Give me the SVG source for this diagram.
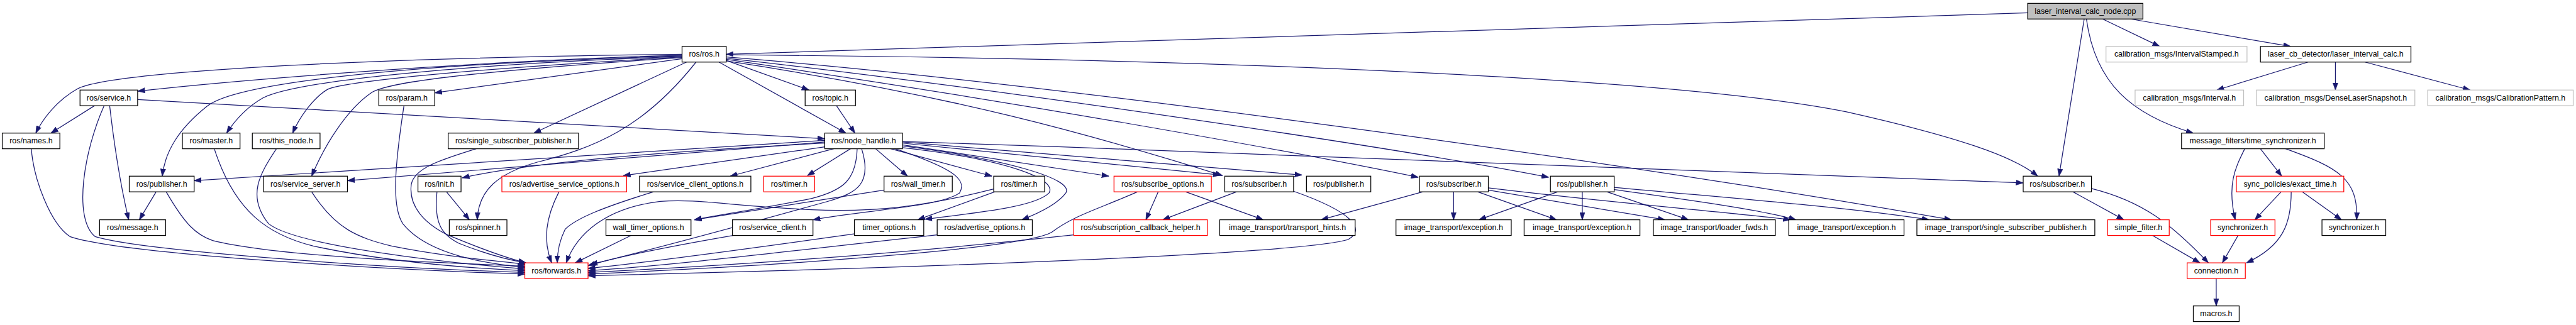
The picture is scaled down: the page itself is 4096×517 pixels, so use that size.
<svg xmlns="http://www.w3.org/2000/svg" width="4096" height="517" viewBox="0 0 4096 517">
<style>
.e{fill:none;stroke:#191970;stroke-width:1.4;marker-end:url(#ah)}
.n rect{fill:#fff;stroke:#000;stroke-width:1.4}
.n.r rect{stroke:#ff0000}
.n.g rect{stroke:#bfbfbf}
.n.root rect{fill:#bfbfbf}
.n text{font-family:"Liberation Sans",Arial,sans-serif;font-size:14px;fill:#000;text-anchor:middle}
</style>
<defs>
<marker id="ah" viewBox="0 0 13 10" refX="13" refY="5" markerWidth="13" markerHeight="10" markerUnits="userSpaceOnUse" orient="auto">
<path d="M0,0.4 L13,5 L0,9.6 z" fill="#191970" stroke="#191970" stroke-width="0.8"/>
</marker>
</defs>
<rect width="4096" height="517" fill="#fff"/>
<g transform="scale(0.88966)">
<g id="edges">
<path class="e" d="M3624,23 L1298,97"/>
<path class="e" d="M3758,34 L3860,83"/>
<path class="e" d="M3808,34 L4094,83"/>
<path class="e" d="M3729,34 C3745,150 3810,205 3920,238"/>
<path class="e" d="M3725,34 L3680,315"/>
<path class="e" d="M1219,97 C600,104 200,130 140,158 C100,180 75,215 64,238"/>
<path class="e" d="M1219,99 C950,105 500,135 246,163"/>
<path class="e" d="M1219,100 C700,115 420,150 370,190 C320,230 295,270 290,315"/>
<path class="e" d="M1219,101 C750,118 520,150 470,175 C440,192 420,215 405,238"/>
<path class="e" d="M1219,102 C800,125 610,148 585,160 C560,175 535,210 523,238"/>
<path class="e" d="M1219,103 C800,130 690,150 665,165 C620,195 580,260 557,315"/>
<path class="e" d="M1219,105 L777,166"/>
<path class="e" d="M1227,111 L954,238"/>
<path class="e" d="M1244,111 C1150,230 1060,265 960,290 C890,310 855,340 853,393"/>
<path class="e" d="M1285,111 L1512,238"/>
<path class="e" d="M1298,108 L1446,161"/>
<path class="e" d="M1495,189 L1528,238"/>
<path class="e" d="M1298,98 C2200,105 3000,140 3300,200 C3500,245 3600,280 3642,315"/>
<path class="e" d="M1298,102 C1900,150 2900,290 3488,393"/>
<path class="e" d="M1298,104 C1800,160 2500,265 2768,317"/>
<path class="e" d="M1298,106 C1800,180 2300,268 2535,317"/>
<path class="e" d="M1298,109 C1700,170 1950,240 2185,314"/>
<path class="e" d="M169,189 L91,238"/>
<path class="e" d="M196,189 C203,250 215,330 230,393"/>
<path class="e" d="M186,189 C150,270 130,390 170,423 C260,450 700,480 938,487"/>
<path class="e" d="M246,178 L1474,248"/>
<path class="e" d="M56,266 C60,320 90,400 125,423 C220,455 700,483 938,490"/>
<path class="e" d="M383,266 C420,380 480,420 560,440 C700,470 850,480 938,484"/>
<path class="e" d="M494,266 C465,310 440,350 480,400 C530,440 800,470 938,481"/>
<path class="e" d="M722,189 C705,300 700,370 720,400 C760,450 850,470 938,478"/>
<path class="e" d="M279,343 L249,393"/>
<path class="e" d="M297,343 C330,400 350,420 380,430 C500,460 800,470 938,476"/>
<path class="e" d="M557,343 C600,410 640,425 700,440 C800,460 880,465 940,473"/>
<path class="e" d="M798,343 L839,393"/>
<path class="e" d="M781,343 C775,400 790,420 820,435 C870,455 910,465 940,470"/>
<path class="e" d="M851,266 C790,285 740,300 735,330 C730,370 760,400 800,420 C860,445 900,460 940,470"/>
<path class="e" d="M999,343 C975,390 970,430 986,470"/>
<path class="e" d="M1168,343 C1080,370 1030,390 1010,410 C1000,430 996,450 996,470"/>
<path class="e" d="M1128,421 L1028,470"/>
<path class="e" d="M1310,421 C1200,440 1100,460 1051,475"/>
<path class="e" d="M1528,418 C1300,450 1150,470 1051,480"/>
<path class="e" d="M1675,420 C1400,450 1200,475 1051,484"/>
<path class="e" d="M1919,420 C1600,455 1300,475 1051,487"/>
<path class="e" d="M2070,343 L2048,393"/>
<path class="e" d="M2119,343 L2258,393"/>
<path class="e" d="M2033,343 C1960,375 1920,385 1880,415 C1840,440 1500,470 1051,490"/>
<path class="e" d="M2210,343 L2078,393"/>
<path class="e" d="M2312,342 C2420,380 2440,410 2410,428 C2330,455 1600,480 1051,493"/>
<path class="e" d="M1474,251 L347,323"/>
<path class="e" d="M1474,254 L621,323"/>
<path class="e" d="M1474,256 C1200,270 950,290 826,318"/>
<path class="e" d="M1478,262 L1114,314"/>
<path class="e" d="M1490,266 L1305,315"/>
<path class="e" d="M1520,266 L1443,314"/>
<path class="e" d="M1532,266 C1530,320 1510,340 1450,355 C1350,375 1280,385 1241,393"/>
<path class="e" d="M1540,266 C1560,330 1530,345 1480,360 C1300,410 1150,450 1055,473"/>
<path class="e" d="M1600,266 C1700,300 1730,320 1715,345 C1680,370 1550,375 1453,393"/>
<path class="e" d="M1565,266 L1622,315"/>
<path class="e" d="M1592,266 L1773,315"/>
<path class="e" d="M1613,264 C1800,285 1890,320 1875,345 C1850,370 1750,380 1653,392"/>
<path class="e" d="M1613,261 C1800,285 1920,320 1905,345 C1890,365 1860,380 1826,393"/>
<path class="e" d="M1613,259 L1982,315"/>
<path class="e" d="M1613,256 L2181,313"/>
<path class="e" d="M1613,254 L2327,313"/>
<path class="e" d="M1613,253 C2300,276 3000,300 3616,327"/>
<path class="e" d="M1580,340 L1241,393"/>
<path class="e" d="M1778,343 L1640,393"/>
<path class="e" d="M1776,338 C1650,370 1560,380 1450,375 C1300,368 1250,355 1180,360 C1080,372 1030,420 1012,470"/>
<path class="e" d="M2543,343 L2361,393"/>
<path class="e" d="M2598,343 L2598,393"/>
<path class="e" d="M2641,343 L2782,393"/>
<path class="e" d="M2660,340 L2976,393"/>
<path class="e" d="M2660,336 C2900,365 3100,380 3200,393"/>
<path class="e" d="M2784,343 L2643,393"/>
<path class="e" d="M2828,343 L2828,393"/>
<path class="e" d="M2872,343 L3018,393"/>
<path class="e" d="M2885,335 C3100,355 3300,370 3448,393"/>
<path class="e" d="M2885,339 C3000,355 3150,375 3210,393"/>
<path class="e" d="M4012,266 C3995,300 3980,330 3995,393"/>
<path class="e" d="M4040,266 L4078,315"/>
<path class="e" d="M4085,266 C4180,300 4215,320 4212,393"/>
<path class="e" d="M4077,343 L4030,393"/>
<path class="e" d="M4115,343 L4185,393"/>
<path class="e" d="M4095,343 C4095,400 4080,440 4015,470"/>
<path class="e" d="M4000,421 L3972,470"/>
<path class="e" d="M3847,421 L3932,470"/>
<path class="e" d="M3705,343 L3796,393"/>
<path class="e" d="M3738,337 C3830,360 3880,400 3947,470"/>
<path class="e" d="M3961,498 L3961,547"/>
<path class="e" d="M4125,111 L3962,161"/>
<path class="e" d="M4174,111 L4174,161"/>
<path class="e" d="M4227,111 L4415,161"/>
</g>
<g id="n_root" class="n root"><rect x="3624" y="6" width="206" height="28"/><text x="3727" y="24.5">laser_interval_calc_node.cpp</text></g>
<g id="n_ros" class="n"><rect x="1219" y="83" width="79" height="28"/><text x="1258.5" y="101.5">ros/ros.h</text></g>
<g id="n_istamp" class="n g"><rect x="3764" y="83" width="252" height="28"/><text x="3890" y="101.5">calibration_msgs/IntervalStamped.h</text></g>
<g id="n_lcb" class="n"><rect x="4040" y="83" width="269" height="28"/><text x="4174.5" y="101.5">laser_cb_detector/laser_interval_calc.h</text></g>
<g id="n_service" class="n"><rect x="143" y="161" width="103" height="28"/><text x="194.5" y="179.5">ros/service.h</text></g>
<g id="n_param" class="n"><rect x="677" y="161" width="100" height="28"/><text x="727" y="179.5">ros/param.h</text></g>
<g id="n_topic" class="n"><rect x="1439" y="161" width="90" height="28"/><text x="1484" y="179.5">ros/topic.h</text></g>
<g id="n_interval" class="n g"><rect x="3816" y="161" width="194" height="28"/><text x="3913" y="179.5">calibration_msgs/Interval.h</text></g>
<g id="n_dense" class="n g"><rect x="4033" y="161" width="283" height="28"/><text x="4174.5" y="179.5">calibration_msgs/DenseLaserSnapshot.h</text></g>
<g id="n_calpat" class="n g"><rect x="4339" y="161" width="260" height="28"/><text x="4469" y="179.5">calibration_msgs/CalibrationPattern.h</text></g>
<g id="n_names" class="n"><rect x="4" y="238" width="103" height="28"/><text x="55.5" y="256.5">ros/names.h</text></g>
<g id="n_master" class="n"><rect x="326" y="238" width="103" height="28"/><text x="377.5" y="256.5">ros/master.h</text></g>
<g id="n_thisnode" class="n"><rect x="451" y="238" width="121" height="28"/><text x="511.5" y="256.5">ros/this_node.h</text></g>
<g id="n_ssp" class="n"><rect x="801" y="238" width="233" height="28"/><text x="917.5" y="256.5">ros/single_subscriber_publisher.h</text></g>
<g id="n_nh" class="n"><rect x="1474" y="238" width="139" height="28"/><text x="1543.5" y="256.5">ros/node_handle.h</text></g>
<g id="n_tsync" class="n"><rect x="3899" y="238" width="255" height="28"/><text x="4026.5" y="256.5">message_filters/time_synchronizer.h</text></g>
<g id="n_pub1" class="n"><rect x="231" y="315" width="116" height="28"/><text x="289" y="333.5">ros/publisher.h</text></g>
<g id="n_ssrv" class="n"><rect x="471" y="315" width="150" height="28"/><text x="546" y="333.5">ros/service_server.h</text></g>
<g id="n_init" class="n"><rect x="747" y="315" width="77" height="28"/><text x="785.5" y="333.5">ros/init.h</text></g>
<g id="n_aso" class="n r"><rect x="897" y="315" width="223" height="28"/><text x="1008.5" y="333.5">ros/advertise_service_options.h</text></g>
<g id="n_sco" class="n"><rect x="1143" y="315" width="199" height="28"/><text x="1242.5" y="333.5">ros/service_client_options.h</text></g>
<g id="n_timer1" class="n r"><rect x="1365" y="315" width="91" height="28"/><text x="1410.5" y="333.5">ros/timer.h</text></g>
<g id="n_wtimer" class="n"><rect x="1580" y="315" width="122" height="28"/><text x="1641" y="333.5">ros/wall_timer.h</text></g>
<g id="n_timer2" class="n"><rect x="1776" y="315" width="91" height="28"/><text x="1821.5" y="333.5">ros/timer.h</text></g>
<g id="n_subopt" class="n r"><rect x="1991" y="315" width="174" height="28"/><text x="2078" y="333.5">ros/subscribe_options.h</text></g>
<g id="n_sub1" class="n"><rect x="2189" y="315" width="123" height="28"/><text x="2250.5" y="333.5">ros/subscriber.h</text></g>
<g id="n_pub2" class="n"><rect x="2335" y="315" width="115" height="28"/><text x="2392.5" y="333.5">ros/publisher.h</text></g>
<g id="n_sub2" class="n"><rect x="2537" y="315" width="123" height="28"/><text x="2598.5" y="333.5">ros/subscriber.h</text></g>
<g id="n_pub3" class="n"><rect x="2771" y="315" width="114" height="28"/><text x="2828" y="333.5">ros/publisher.h</text></g>
<g id="n_sub3" class="n"><rect x="3616" y="315" width="122" height="28"/><text x="3677" y="333.5">ros/subscriber.h</text></g>
<g id="n_exact" class="n r"><rect x="3997" y="315" width="192" height="28"/><text x="4093" y="333.5">sync_policies/exact_time.h</text></g>
<g id="n_msg" class="n"><rect x="178" y="393" width="118" height="28"/><text x="237" y="411.5">ros/message.h</text></g>
<g id="n_spin" class="n"><rect x="803" y="393" width="103" height="28"/><text x="854.5" y="411.5">ros/spinner.h</text></g>
<g id="n_wto" class="n"><rect x="1083" y="393" width="152" height="28"/><text x="1159" y="411.5">wall_timer_options.h</text></g>
<g id="n_sclient" class="n"><rect x="1309" y="393" width="144" height="28"/><text x="1381" y="411.5">ros/service_client.h</text></g>
<g id="n_to" class="n"><rect x="1527" y="393" width="124" height="28"/><text x="1589" y="411.5">timer_options.h</text></g>
<g id="n_ao" class="n"><rect x="1675" y="393" width="170" height="28"/><text x="1760" y="411.5">ros/advertise_options.h</text></g>
<g id="n_sch" class="n r"><rect x="1919" y="393" width="239" height="28"/><text x="2038.5" y="411.5">ros/subscription_callback_helper.h</text></g>
<g id="n_th" class="n"><rect x="2180" y="393" width="242" height="28"/><text x="2301" y="411.5">image_transport/transport_hints.h</text></g>
<g id="n_ex1" class="n"><rect x="2495" y="393" width="206" height="28"/><text x="2598" y="411.5">image_transport/exception.h</text></g>
<g id="n_ex2" class="n"><rect x="2724" y="393" width="207" height="28"/><text x="2827.5" y="411.5">image_transport/exception.h</text></g>
<g id="n_lf" class="n"><rect x="2955" y="393" width="218" height="28"/><text x="3064" y="411.5">image_transport/loader_fwds.h</text></g>
<g id="n_ex3" class="n"><rect x="3197" y="393" width="206" height="28"/><text x="3300" y="411.5">image_transport/exception.h</text></g>
<g id="n_itssp" class="n"><rect x="3426" y="393" width="318" height="28"/><text x="3585" y="411.5">image_transport/single_subscriber_publisher.h</text></g>
<g id="n_sf" class="n r"><rect x="3767" y="393" width="110" height="28"/><text x="3822" y="411.5">simple_filter.h</text></g>
<g id="n_sync1" class="n r"><rect x="3951" y="393" width="115" height="28"/><text x="4008.5" y="411.5">synchronizer.h</text></g>
<g id="n_sync2" class="n"><rect x="4150" y="393" width="114" height="28"/><text x="4207" y="411.5">synchronizer.h</text></g>
<g id="n_fwd" class="n r"><rect x="938" y="470" width="113" height="28"/><text x="994.5" y="488.5">ros/forwards.h</text></g>
<g id="n_conn" class="n r"><rect x="3909" y="470" width="104" height="28"/><text x="3961" y="488.5">connection.h</text></g>
<g id="n_macros" class="n"><rect x="3920" y="547" width="82" height="28"/><text x="3961" y="565.5">macros.h</text></g>
</g>
</svg>
